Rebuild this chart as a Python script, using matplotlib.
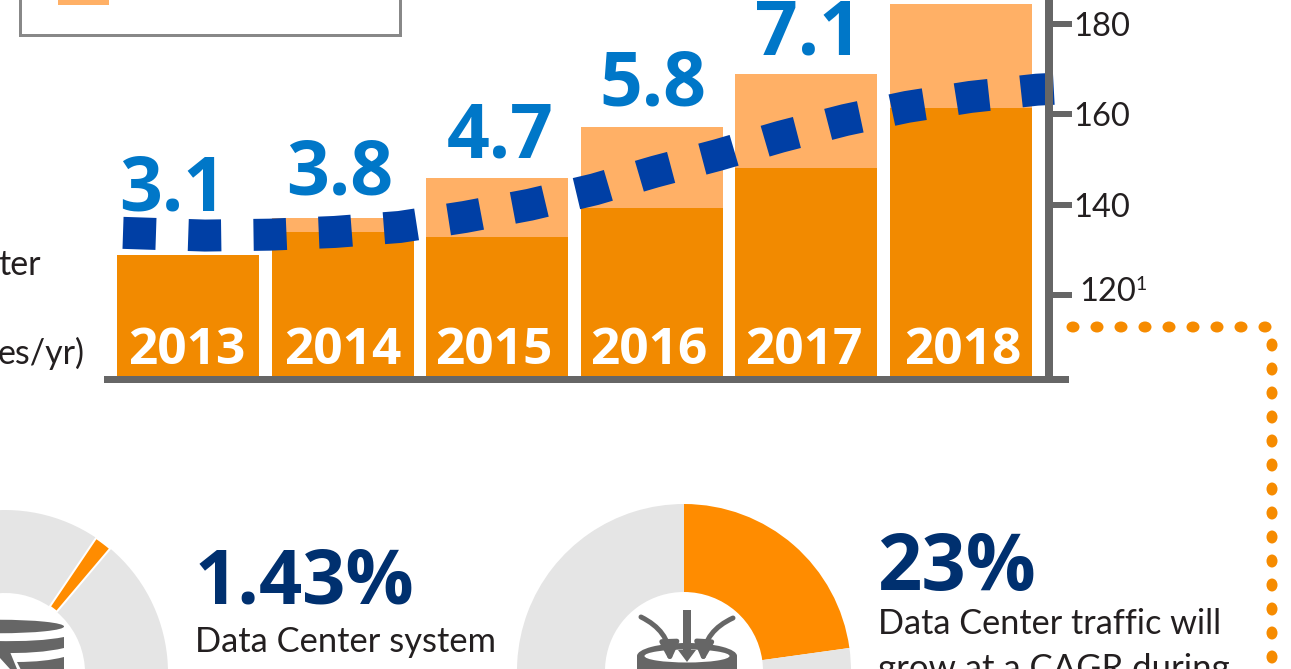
import numpy as np
import matplotlib
matplotlib.use("Agg")
import matplotlib.pyplot as plt
from matplotlib.patches import Rectangle, Ellipse, Polygon, FancyArrowPatch, PathPatch
from matplotlib.path import Path

# ---- data ----
years = ["2013", "2014", "2015", "2016", "2017", "2018"]
year_x = [-0.006, 1.0, 1.98, 2.98, 3.98, 5.013]
bar_base = [2.81, 3.35, 3.23, 3.91, 4.84, 6.23]
bar_total = [2.81, 3.67, 4.60, 5.79, 7.02, 8.65]
bar_labels = ["3.1", "3.8", "4.7", "5.8", "7.1"]
label_x = [-0.10, 0.98, 2.02, 3.01, 4.01]
label_base = [3.84, 4.21, 5.07, 6.28, 7.47]
line_x = [-0.42, 0.11, 0.53, 0.95, 1.37, 1.79, 2.21, 2.63, 3.02, 3.43, 3.83, 4.25, 4.65, 5.06, 5.49, 5.60]
line_y = [133.8, 133.2, 133.4, 134.0, 135.1, 137.3, 140.0, 143.4, 147.3, 151.0, 155.0, 158.7, 161.6, 163.8, 165.4, 165.6]
right_ticks = [120, 140, 160, 180]
left_share = [1.72, 98.28]
right_share = [22.8, 77.2]

ORANGE = "#F28A00"
LIGHT = "#FFB066"
DONUT = "#FF8C00"
GREY = "#E5E5E5"
AXIS = "#666666"
LINE = "#003FA5"
BLUE = "#0077C8"
NAVY = "#00306F"
TEXT = "#231F20"
DOT = "#F68B00"
W, H = 1291, 669
PX = 72 / 100
BOLD = ["Open Sans", "DejaVu Sans"]

plt.rcParams["font.family"] = ["Lato", "DejaVu Sans"]
fig = plt.figure(figsize=(W / 100, H / 100), dpi=100, facecolor="white")


def box(x0, y0, x1, y1):
    return [x0 / W, 1 - y1 / H, (x1 - x0) / W, (y1 - y0) / H]


# overlay for decoration and free text, in pixels
ov = fig.add_axes([0, 0, 1, 1], zorder=0)
ov.set_xlim(0, W)
ov.set_ylim(H, 0)
ov.axis("off")

# bar chart
ax = fig.add_axes(box(104, 0, 1049, 376), zorder=2)
ax.patch.set_alpha(0)
x = np.arange(len(years))
ax.bar(x, bar_total, width=0.918, color=LIGHT, linewidth=0)
ax.bar(x, bar_base, width=0.918, color=ORANGE, linewidth=0)
ax.set_xlim(-0.543, 5.569)
ax.set_ylim(0, 376 / 43)
ax.set_xticks([])
ax.set_yticks([])
for s in ax.spines.values():
    s.set_visible(False)
for xi, yr in zip(year_x, years):
    ax.text(xi, 0.27, yr, color="white", fontsize=37, family=BOLD, fontweight="bold", ha="center", va="baseline")
for lx, lb, t in zip(label_x, label_base, bar_labels):
    ax.text(lx, lb, t, color=BLUE, fontsize=54, family=BOLD, fontweight="bold", ha="center", va="baseline", clip_on=True)

# line on the right axis
tw = ax.twinx()
tw.set_zorder(3)
tw.patch.set_alpha(0)
tw.set_ylim(102.2, 185.2)
tw.plot(line_x, line_y, color=LINE, lw=32 * PX, solid_capstyle="butt", dash_capstyle="butt",
        dashes=(1.03, 1.01), clip_on=False)
for k, s in tw.spines.items():
    s.set_visible(k == "right")
tw.spines["right"].set_color(AXIS)
tw.spines["right"].set_linewidth(8 * PX)
tw.set_yticks(right_ticks)
tw.set_yticklabels([str(v) for v in right_ticks], fontsize=23.5, color=TEXT)
tw.tick_params(axis="y", length=23 * PX, width=6 * PX, color=AXIS, pad=1.5 * PX, right=True)
tw.get_yticklabels()[0].set_visible(False)
ov.text(1079, 301, "120", fontsize=23.5, color=TEXT, va="baseline")
ov.text(1135, 290, "1", fontsize=14, color=TEXT, va="baseline")
# baseline sits over the axes
fig.add_artist(Rectangle((104 / W, 1 - 383 / H), 965 / W, 7 / H, transform=fig.transFigure, color=AXIS, lw=0, zorder=10))

# legend fragment
ov.add_patch(Rectangle((20, -10), 380, 45, fill=False, ec="#888888", lw=3 * PX))
ov.add_patch(Rectangle((58, -10), 51, 15, color=LIGHT, lw=0))

# dotted connector
for dx in np.arange(1073, 1266, 24):
    ov.add_patch(Ellipse((dx, 327), 13, 11, color=DOT, lw=0))
for dy in np.arange(345, 670, 24):
    ov.add_patch(Ellipse((1272, dy), 11, 13, color=DOT, lw=0))


def donut(cx, cy, R, r, shares, start, colors, edge):
    a = fig.add_axes(box(cx - R - 1, cy - R - 1, cx + R + 1, cy + R + 1), zorder=1)
    a.patch.set_alpha(0)
    wedges, _ = a.pie(shares, startangle=start, counterclock=False, colors=colors,
                      radius=1.0, wedgeprops=dict(width=(R - r) / R, linewidth=0))
    a.set_xlim(-(R + 1) / R, (R + 1) / R)
    a.set_ylim(-(R + 1) / R, (R + 1) / R)
    if edge:
        wedges[0].set_edgecolor("white")
        wedges[0].set_linewidth(2 * PX)
        wedges[0].set_zorder(5)


donut(5, 673, 163, 80, left_share, 90 - 34, [DONUT, GREY], True)
donut(684, 671, 167, 79, right_share, 90, [DONUT, GREY], False)

# left icon: database cylinder
ic = fig.add_axes([0, 0, 1, 1], zorder=4)
ic.set_xlim(0, W)
ic.set_ylim(H, 0)
ic.axis("off")
ic.add_patch(Ellipse((-1, 626.5), 130, 13.5, color=AXIS, lw=0))
curve = [Path.MOVETO, Path.CURVE3, Path.CURVE3, Path.LINETO, Path.CURVE3, Path.CURVE3, Path.LINETO, Path.CLOSEPOLY]
ic.add_patch(PathPatch(Path([(-5, 641), (40, 642), (64, 637), (64, 648), (40, 654), (-5, 653), (-5, 641), (-5, 641)], curve),
                       color=AXIS, lw=0))
ic.add_patch(Polygon([(-2, 650), (3, 650), (10, 652), (17, 669), (10, 669), (0, 658)], color=AXIS, lw=0))
ic.add_patch(PathPatch(Path([(17, 662), (45, 662), (64, 657), (64, 672), (40, 672), (22, 672), (17, 662), (17, 662)], curve),
                       color=AXIS, lw=0))

# right icon: inflow onto a disc
ic.add_patch(Ellipse((687, 656), 100, 26, fc=AXIS, ec="none", lw=0))
ic.add_patch(Rectangle((637, 656), 100, 15, color=AXIS, lw=0))
ic.add_patch(Ellipse((687, 656), 85, 13, fc="white", ec="none", lw=0))
ic.add_patch(Rectangle((683, 610), 8, 42, color=AXIS, lw=0))
ic.add_patch(Polygon([(678, 650), (696, 650), (687, 662)], color=AXIS, lw=0))
for xs, ys, xe, rad in [(641, 617, 670, -0.3), (733, 618, 703, 0.3)]:
    ic.add_patch(FancyArrowPatch((xs, ys), (xe, 662), connectionstyle=f"arc3,rad={rad}",
                                 arrowstyle="-|>,head_length=0.6,head_width=0.3",
                                 mutation_scale=18, color=AXIS, lw=5 * PX, shrinkA=0, shrinkB=0))

# free text
ov.text(41, 275, "ter", fontsize=24.5, color=TEXT, ha="right", va="baseline")
ov.text(85, 364, "es/yr)", fontsize=24.5, color=TEXT, ha="right", va="baseline")
ov.text(195, 604, "1.43%", fontsize=54.5, color=NAVY, family=BOLD, fontweight="bold", va="baseline")
ov.text(195, 652, "Data Center system", fontsize=24.8, color=TEXT, va="baseline")
ov.text(877, 590, "23%", fontsize=56, color=NAVY, family=BOLD, fontweight="bold", va="baseline")
ov.text(878, 634, "Data Center traffic will", fontsize=24.7, color=TEXT, va="baseline")
ov.text(878, 679, "grow at a CAGR during", fontsize=25, color=TEXT, va="baseline")

fig.savefig("out.png", dpi=100)
